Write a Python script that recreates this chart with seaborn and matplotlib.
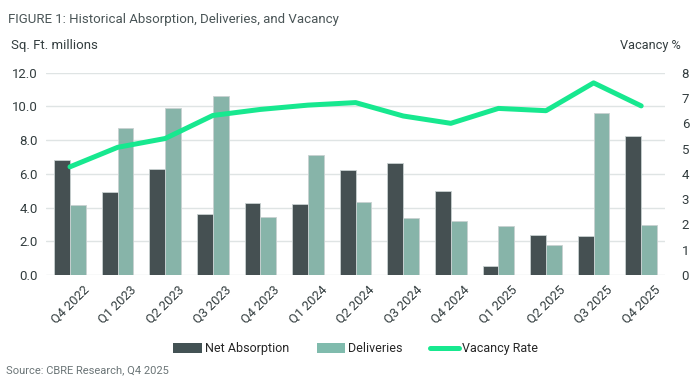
import numpy as np
import pandas as pd
import matplotlib
matplotlib.use("Agg")
import matplotlib.pyplot as plt
import seaborn as sns
from matplotlib.patches import Patch
from matplotlib.lines import Line2D

# Dados
quarters = ["Q4 2022", "Q1 2023", "Q2 2023", "Q3 2023", "Q4 2023", "Q1 2024", "Q2 2024",
            "Q3 2024", "Q4 2024", "Q1 2025", "Q2 2025", "Q3 2025", "Q4 2025"]
net_absorption = [6.83, 4.93, 6.29, 3.60, 4.29, 4.23, 6.21, 6.67, 4.97, 0.53, 2.37, 2.33, 8.25]
deliveries = [4.13, 8.72, 9.89, 10.64, 3.44, 7.14, 4.33, 3.36, 3.22, 2.89, 1.76, 9.63, 2.97]
vacancy = [4.28, 5.05, 5.40, 6.31, 6.55, 6.72, 6.82, 6.29, 6.00, 6.59, 6.50, 7.60, 6.69]

DARK = "#435254"
LIGHT = "#80bbad"
GREEN = "#17e88f"
TEXT = "#333d3f"

sns.set_theme(style="white")
plt.rcParams["font.family"] = ["Roboto", "DejaVu Sans"]

df = pd.DataFrame({
    "quarter": quarters * 2,
    "valor": net_absorption + deliveries,
    "serie": ["Net Absorption"] * len(quarters) + ["Deliveries"] * len(quarters),
})

fig = plt.figure(figsize=(7, 3.83), dpi=100)
ax = fig.add_axes([0.066, 0.282, 0.884, 0.528])

sns.barplot(data=df, x="quarter", y="valor", hue="serie", order=quarters,
            hue_order=["Net Absorption", "Deliveries"], palette=[DARK, LIGHT],
            width=0.66, edgecolor="#c9d1d1", linewidth=0.6, legend=False, ax=ax)

ax.set_xlim(-0.5, len(quarters) - 0.5)
ax.set_ylim(0, 12)
ax.set_yticks(np.arange(0, 12.1, 2))
ax.set_yticklabels([f"{v:.1f}" for v in np.arange(0, 12.1, 2)], fontsize=9.5, color=TEXT)
ax.yaxis.grid(True, color="#dfe4e4", linewidth=1)
ax.set_axisbelow(True)
ax.set_xlabel("")
ax.set_ylabel("")
ax.tick_params(axis="both", length=0, pad=6)
plt.setp(ax.get_xticklabels(), rotation=45, fontsize=9.2, color=TEXT)
for s in ax.spines.values():
    s.set_visible(False)

ax2 = ax.twinx()
sns.lineplot(x=np.arange(len(quarters)), y=vacancy, color=GREEN, linewidth=3.6,
             ax=ax2, legend=False)
ax2.set_ylim(0, 8)
ax2.set_yticks(range(0, 9))
ax2.set_yticklabels([str(v) for v in range(0, 9)], fontsize=9.5, color=TEXT)
ax2.tick_params(axis="y", length=0, pad=12)
ax2.grid(False)
for s in ax2.spines.values():
    s.set_visible(False)

# Textos
fig.text(0.012, 0.948, "FIGURE 1: Historical Absorption, Deliveries, and Vacancy",
         fontsize=9.5, color="#4a5557", va="center")
fig.text(0.016, 0.882, "Sq. Ft. millions", fontsize=9.5, color=TEXT, va="center")
fig.text(0.972, 0.882, "Vacancy %", fontsize=9.2, color=TEXT, va="center", ha="right")
fig.text(0.008, 0.034, "Source: CBRE Research, Q4 2025", fontsize=8, color="#6b7577", va="center")

handles = [Patch(facecolor=DARK, edgecolor="none"),
           Patch(facecolor=LIGHT, edgecolor="none"),
           Line2D([0], [0], color=GREEN, linewidth=3.6, solid_capstyle="round")]
fig.legend(handles, ["Net Absorption", "Deliveries", "Vacancy Rate"], loc="center",
           bbox_to_anchor=(0.508, 0.089), ncol=3, frameon=False, fontsize=9,
           handlelength=2.3, handleheight=0.9, columnspacing=2.2, handletextpad=0.25)

fig.savefig("out.png", dpi=100)
plt.close(fig)
